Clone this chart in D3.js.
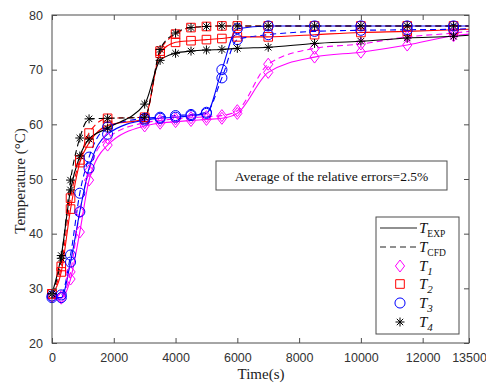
<!DOCTYPE html>
<html>
<head>
<meta charset="utf-8">
<script src="https://cdn.jsdelivr.net/npm/d3@7/dist/d3.min.js"></script>
<style>
  html, body { margin: 0; padding: 0; background: #fff; }
  svg { display: block; }
</style>
</head>
<body>
<svg id="chart" width="486" height="384"></svg>
<script>
// Sample times (s) at which the temperatures were recorded
const times = [0, 300, 600, 900, 1200, 1800, 3000, 3500, 4000, 4500, 5000, 5500, 6000, 7000, 8500, 10000, 11500, 13000, 13500];

// Temperatures (°C): experiment (EXP) and simulation (CFD) at four probes
const t1Exp = [28.5, 28.2, 31.7, 40.3, 49.8, 56.2, 59.7, 60.2, 60.5, 60.7, 60.9, 61.1, 62.0, 69.5, 72.3, 73.2, 74.5, 76.2, 76.5];
const t1Cfd = [28.5, 28.5, 33.0, 44.0, 51.5, 57.5, 60.3, 60.7, 61.0, 61.2, 61.4, 61.6, 62.5, 71.0, 73.9, 74.7, 76.0, 76.7, 77.0];
const t2Exp = [29.0, 33.0, 44.5, 53.0, 56.6, 59.8, 61.0, 73.0, 75.0, 75.3, 75.5, 75.7, 76.0, 76.0, 76.4, 76.8, 77.0, 77.3, 77.4];
const t2Cfd = [29.0, 34.0, 46.5, 53.5, 58.4, 61.1, 61.3, 73.4, 76.5, 77.7, 77.9, 78.0, 78.0, 78.0, 78.0, 78.0, 78.0, 78.0, 78.0];
const t3Exp = [28.3, 28.3, 34.8, 44.0, 52.0, 58.2, 60.8, 61.1, 61.3, 61.6, 62.0, 70.0, 77.5, 78.0, 78.0, 78.0, 78.0, 78.0, 78.0];
const t3Cfd = [28.6, 28.8, 36.1, 47.4, 54.0, 59.5, 61.1, 61.3, 61.6, 61.8, 62.2, 68.5, 75.5, 76.4, 77.0, 77.2, 77.3, 77.4, 77.5];
const t4Exp = [29.0, 36.0, 48.0, 54.2, 57.3, 59.3, 63.7, 71.7, 73.0, 73.4, 73.6, 73.7, 73.9, 74.1, 74.8, 75.2, 75.8, 76.1, 76.3];
const t4Cfd = [29.0, 35.5, 49.8, 57.5, 61.0, 61.1, 61.3, 73.7, 76.7, 77.7, 77.9, 78.0, 78.0, 78.0, 78.0, 78.0, 78.0, 78.0, 78.0];

// Axis ticks
const xTicks = [0, 2000, 4000, 6000, 8000, 10000, 12000, 13500];
const yTicks = [20, 30, 40, 50, 60, 70, 80];

const series = [
  { name: "1", color: "#ff00ff", marker: "diamond", exp: t1Exp, cfd: t1Cfd },
  { name: "2", color: "#ff0000", marker: "square",  exp: t2Exp, cfd: t2Cfd },
  { name: "3", color: "#0000ff", marker: "circle",  exp: t3Exp, cfd: t3Cfd },
  { name: "4", color: "#000000", marker: "star",    exp: t4Exp, cfd: t4Cfd }
];

const svg = d3.select("#chart");
const plot = { left: 52, top: 15, right: 469, bottom: 343 };

const x = d3.scaleLinear().domain([0, 13500]).range([plot.left, plot.right]);
const y = d3.scaleLinear().domain([20, 80]).range([plot.bottom, plot.top]);

const axisColor = "#4d4d4d";
const tickFont = "'Liberation Sans', Arial, sans-serif";
const serif = "'Liberation Serif', 'Times New Roman', serif";

// Marker path generators, centred on the origin
function markerPath(type) {
  if (type === "diamond") return "M0,-6L4.6,0L0,6L-4.6,0Z";
  if (type === "square") return "M-4.3,-4.3H4.3V4.3H-4.3Z";
  if (type === "circle") return d3.symbol(d3.symbolCircle, 80)();
  return "M-4.5,0H4.5M0,-4.5V4.5M-3.2,-3.2L3.2,3.2M-3.2,3.2L3.2,-3.2";
}

const g = svg.append("g");

// Curves
const line = d3.line()
  .x((d, i) => x(times[i]))
  .y(d => y(d))
  .curve(d3.curveMonotoneX);

const clip = svg.append("defs").append("clipPath").attr("id", "plotClip")
  .append("rect")
  .attr("x", plot.left).attr("y", plot.top - 6)
  .attr("width", plot.right - plot.left).attr("height", plot.bottom - plot.top + 6);

const curves = g.append("g").attr("clip-path", "url(#plotClip)");

series.forEach(s => {
  [["cfd", "6,4"], ["exp", null]].forEach(([key, dash]) => {
    curves.append("path")
      .datum(s[key])
      .attr("fill", "none")
      .attr("stroke", s.color)
      .attr("stroke-width", 1.1)
      .attr("stroke-dasharray", dash)
      .attr("d", line);
  });
});

// Markers at the recorded times (the last time is only a curve end point)
const markerTimes = times.slice(0, times.length - 1);
series.forEach(s => {
  ["cfd", "exp"].forEach(key => {
    g.append("g").selectAll("path")
      .data(markerTimes.map((t, i) => ({ t, v: s[key][i] })))
      .join("path")
      .attr("transform", d => `translate(${x(d.t)},${y(d.v)})`)
      .attr("d", markerPath(s.marker))
      .attr("fill", "none")
      .attr("stroke", s.color)
      .attr("stroke-width", 1);
  });
});

// Frame
g.append("rect")
  .attr("x", plot.left).attr("y", plot.top)
  .attr("width", plot.right - plot.left).attr("height", plot.bottom - plot.top)
  .attr("fill", "none").attr("stroke", axisColor).attr("stroke-width", 1);

// Axes with inward ticks, mirrored on the top and right edges
const xAxis = d3.axisBottom(x).tickValues(xTicks).tickSizeInner(-5).tickSizeOuter(0).tickPadding(10).tickFormat(d3.format("d"));
const yAxis = d3.axisLeft(y).tickValues(yTicks).tickSizeInner(-5).tickSizeOuter(0).tickPadding(9);

function styleAxis(sel, showText) {
  sel.select(".domain").remove();
  sel.selectAll(".tick line").attr("stroke", axisColor);
  sel.selectAll(".tick text")
    .attr("fill", "#333")
    .style("font-family", tickFont)
    .style("font-size", "12.5px")
    .style("display", showText ? null : "none");
}

g.append("g").attr("transform", `translate(0,${plot.bottom})`).call(xAxis).call(styleAxis, true);
g.append("g").attr("transform", `translate(${plot.left},0)`).call(yAxis).call(styleAxis, true);
g.append("g").attr("transform", `translate(0,${plot.top})`)
  .call(d3.axisTop(x).tickValues(xTicks.filter(t => t < 13500)).tickSizeInner(-5).tickSizeOuter(0))
  .call(styleAxis, false);
g.append("g").attr("transform", `translate(${plot.right},0)`)
  .call(d3.axisRight(y).tickValues(yTicks).tickSizeInner(-5).tickSizeOuter(0))
  .call(styleAxis, false);

// Axis titles
svg.append("text")
  .attr("x", 261).attr("y", 379)
  .attr("text-anchor", "middle")
  .style("font-family", serif).style("font-size", "15px").attr("fill", "#222")
  .text("Time(s)");

svg.append("text")
  .attr("transform", "translate(25,181) rotate(-90)")
  .attr("text-anchor", "middle")
  .style("font-family", serif).style("font-size", "15px").attr("fill", "#222")
  .text("Temperature (°C)");

// Annotation box
svg.append("rect")
  .attr("x", 216).attr("y", 161).attr("width", 231).attr("height", 29)
  .attr("fill", "#fff").attr("stroke", axisColor).attr("stroke-width", 1);
svg.append("text")
  .attr("x", 331.5).attr("y", 180.5)
  .attr("text-anchor", "middle")
  .style("font-family", serif).style("font-size", "13.5px").attr("fill", "#111")
  .text("Average of the relative errors=2.5%");

// Legend
const lg = svg.append("g");
lg.append("rect")
  .attr("x", 376).attr("y", 217).attr("width", 83).attr("height", 117)
  .attr("fill", "#fff").attr("stroke", axisColor).attr("stroke-width", 1);

const legendRows = [
  { label: "T", sub: "EXP", subItalic: false, kind: "line", dash: null },
  { label: "T", sub: "CFD", subItalic: false, kind: "line", dash: "6,4" },
  ...series.map(s => ({ label: "T", sub: s.name, subItalic: true, kind: "marker", s }))
];
const rowY = [228, 247, 266, 284, 303, 322];

legendRows.forEach((r, i) => {
  const yy = rowY[i];
  if (r.kind === "line") {
    lg.append("line")
      .attr("x1", 380).attr("x2", 417).attr("y1", yy).attr("y2", yy)
      .attr("stroke", "#222").attr("stroke-width", 1.1)
      .attr("stroke-dasharray", r.dash);
  } else {
    lg.append("path")
      .attr("transform", `translate(400,${yy})`)
      .attr("d", markerPath(r.s.marker))
      .attr("fill", "none").attr("stroke", r.s.color).attr("stroke-width", 1);
  }
  const t = lg.append("text")
    .attr("x", 419).attr("y", yy + 5)
    .style("font-family", serif).style("font-size", "15px").attr("fill", "#111");
  t.append("tspan").style("font-style", "italic").text(r.label);
  t.append("tspan")
    .attr("dy", 4)
    .style("font-size", r.subItalic ? "11px" : "9.5px")
    .style("font-style", r.subItalic ? "italic" : "normal")
    .text(r.sub);
});
</script>
</body>
</html>
